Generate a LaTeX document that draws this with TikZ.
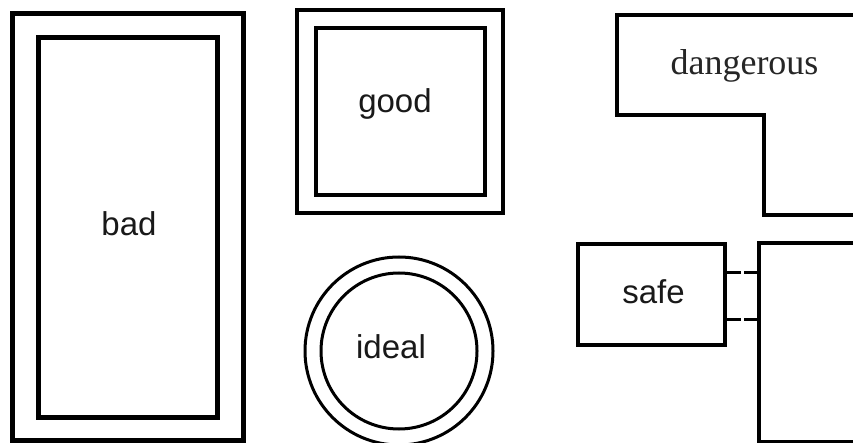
\documentclass[tikz,border=0pt]{standalone}
\usepackage{fontspec}
\setmainfont{Liberation Serif}
\newfontfamily\arialf{Liberation Sans}
\begin{document}
\begin{tikzpicture}[x=1pt,y=-1pt,
  box/.style={draw=black, fill=none, inner sep=0pt, outer sep=0pt},
  lbl/.style={inner sep=0pt, anchor=base, text=black!90, font=\arialf\fontsize{33}{38}\selectfont},
  serif/.style={inner sep=0pt, anchor=base, text=black!85, font=\fontsize{36}{42}\selectfont},
  wall/.style={draw=black, line width=4pt, line join=miter},
  link/.style={draw=black, line width=3pt, dash pattern=on 16pt off 3pt on 16pt off 3pt}]
\useasboundingbox (0,0) rectangle (853,443);
\fill[white] (0,0) rectangle (853,443);
\clip (0,0) rectangle (853,443);
% bad
\node[box, line width=5pt, minimum width=230.5pt, minimum height=427pt] (badout) at (127.75,227) {};
\node[box, line width=5pt, minimum width=179pt, minimum height=379pt] (badin) at (127.5,227.5) {};
\node[lbl] (badt) at (129,236) {bad};
% good
\node[box, line width=4pt, minimum width=206pt, minimum height=203pt] (goodout) at (400,111.5) {};
\node[box, line width=4pt, minimum width=169pt, minimum height=167pt] (goodin) at (400.5,111.5) {};
\node[lbl] (goodt) at (395,113) {good};
% ideal
\node[box, circle, line width=3pt, minimum size=188pt] (idealout) at (399,351) {};
\node[box, circle, line width=3pt, minimum size=156pt] (idealin) at (399,351) {};
\node[lbl] (idealt) at (391,358) {ideal};
% dangerous
\draw[wall] (870,15) -- (617,15) -- (617,115) -- (764,115) -- (764,215) -- (870,215);
\node[serif] (dangt) at (744.5,75) {dangerous};
% safe
\node[box, line width=4pt, minimum width=147pt, minimum height=101pt] (safe) at (651.5,294.5) {};
\node[lbl] (safet) at (653.5,303) {safe};
% room on the right
\node[box, line width=4pt, minimum width=200pt, minimum height=199pt] (room) at (859,342.5) {};
% dashed connectors
\draw[link] ([yshift=21.5pt]safe.east) -- ([yshift=21.5pt]safe.east -| room.west);
\draw[link] ([yshift=-24.5pt]safe.east) -- ([yshift=-24.5pt]safe.east -| room.west);
\end{tikzpicture}
\end{document}
